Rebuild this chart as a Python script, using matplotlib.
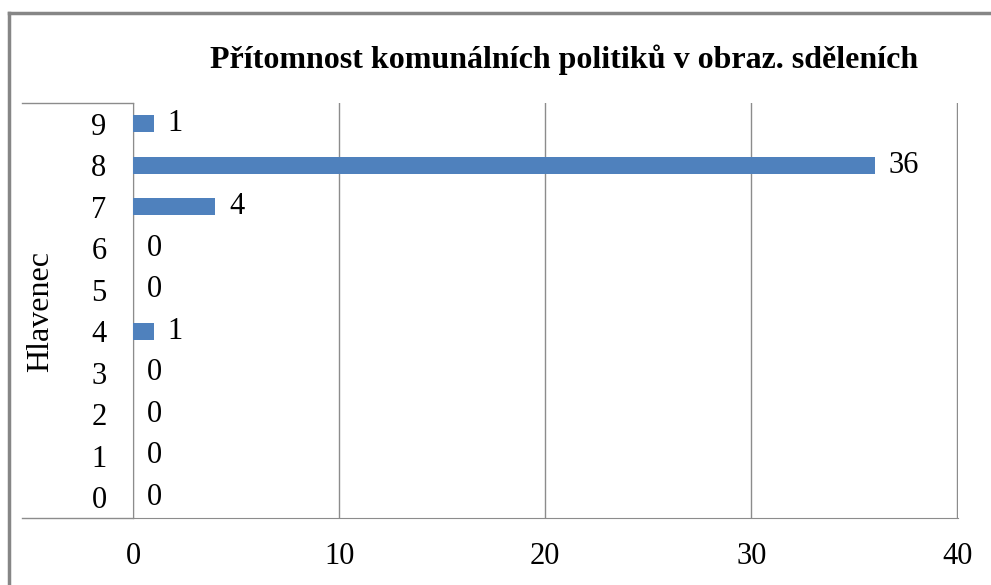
import matplotlib.pyplot as plt
from matplotlib.lines import Line2D

plt.rcParams['font.family'] = ['Liberation Serif', 'DejaVu Serif']

categories = ['0', '1', '2', '3', '4', '5', '6', '7', '8', '9']
values = [0, 0, 0, 0, 1, 0, 0, 4, 36, 1]
xticks = [0, 10, 20, 30, 40]
title = 'Přítomnost komunálních politiků v obraz. sděleních'
ylabel = 'Hlavenec'

W, H = 991, 585
fig = plt.figure(figsize=(W / 100, H / 100), dpi=100)
L, R, T, B = 133, 958, 103, 518
ax = fig.add_axes([L / W, 1 - B / H, (R - L) / W, (B - T) / H])

grid_c = '#8c8c8c'
ax.barh(range(len(categories)), values, height=0.4, color='#4F81BD', zorder=3)
for i, v in enumerate(values):
    ax.annotate(str(v), (v, i), xytext=(10, 0), textcoords='offset points',
                va='center', ha='left', fontsize=22)

ax.set_xlim(0, 40.03)
ax.set_ylim(-0.5, len(categories) - 0.5)
ax.set_xticks(xticks)
ax.set_yticks(range(len(categories)))
ax.set_yticklabels(categories)
ax.tick_params(axis='both', length=0, labelsize=22)
ax.tick_params(axis='y', pad=19)
ax.tick_params(axis='x', pad=17)
ax.grid(axis='x', color=grid_c, linewidth=1, zorder=0)
for s in ['top', 'right']:
    ax.spines[s].set_visible(False)
ax.spines['left'].set_color(grid_c)
ax.spines['bottom'].set_color(grid_c)

# frame stubs left of the plot area
fig.add_artist(Line2D([22 / W, L / W], [1 - B / H, 1 - B / H], color=grid_c, lw=1))
fig.add_artist(Line2D([22 / W, L / W], [1 - T / H, 1 - T / H], color=grid_c, lw=1))

# outer chart border
fig.add_artist(Line2D([9 / W, 9 / W], [0, 1 - 13 / H], color='#868686', lw=2.5))
fig.add_artist(Line2D([9 / W, 1], [1 - 13 / H, 1 - 13 / H], color='#868686', lw=2.5))

fig.text(564 / W, 1 - 60 / H, title, ha='center', va='center',
         fontsize=23, fontweight='bold')
fig.text(41 / W, 1 - 312 / H, ylabel, ha='center', va='center',
         rotation=90, fontsize=23)

fig.savefig('out.png', dpi=100)
